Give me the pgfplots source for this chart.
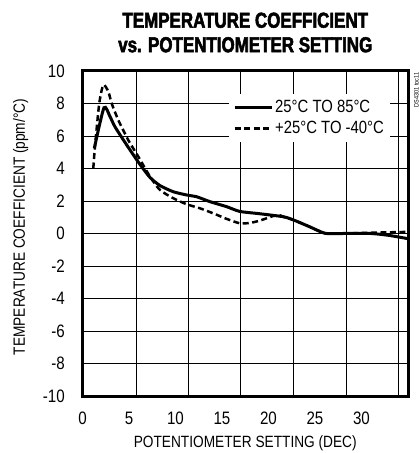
\documentclass[border=0pt]{standalone}
\usepackage{fontspec}
\setmainfont{Liberation Sans}[FakeStretch=0.84]
\newfontfamily\titlefont{Liberation Sans}[UprightFont={* Bold}, FakeStretch=0.785, FakeBold=2.5]
\usepackage{pgfplots}
\pgfplotsset{compat=1.18}

\newcommand\ticksize{\fontsize{18bp}{20bp}\selectfont}

\begin{document}
\begin{tikzpicture}
\useasboundingbox (-82.5bp,-57bp) rectangle (336.5bp,396bp);
\begin{axis}[
    at={(0,0)}, anchor=south west,
    scale only axis, width=325.5bp, height=325bp,
    xmin=0, xmax=35, ymin=-10, ymax=10,
    xtick={0,5,10,15,20,25,30},
    xticklabels={0,5,10,15,20,25,30},
    ytick={-10,-8,...,10},
    hide obscured x ticks=false,
    major tick length=0pt,
    ymajorgrids=true,
    extra x ticks={5.75,11.39,17.03,22.67,28.33,33.96},
    extra x tick labels={},
    extra x tick style={grid=major},
    grid style={black, line width=0.8bp},
    axis line style={line width=3bp},
    /pgf/number format/assume math mode=true,
    tick label style={font=\ticksize},
    yticklabel style={anchor=east, inner sep=0pt, xshift=-17.5bp},
    xticklabel style={anchor=north, inner sep=0pt, yshift=-15.7bp},
    xlabel={POTENTIOMETER SETTING (DEC)},
    xlabel style={at={(axis description cs:0.5,0)}, anchor=base, yshift=-51.3bp,
        font=\fontsize{16.3bp}{18bp}\selectfont},
    ylabel={TEMPERATURE COEFFICIENT (ppm/°C)},
    ylabel style={at={(axis description cs:-0.1767,0.52)}, anchor=base,
        font=\fontsize{16.3bp}{18bp}\selectfont},
    title={TEMPERATURE COEFFICIENT\\vs. POTENTIOMETER SETTING},
    title style={at={(axis description cs:0.5,1.100)}, anchor=center, align=center,
        font=\titlefont\fontsize{21.6bp}{24.5bp}\selectfont},
    clip=false,
    legend cell align=left,
    legend image code/.code={\draw[#1] (0bp,0bp) -- (37bp,0bp);},
    legend style={at={(axis cs:15.75,8.62)}, anchor=north west, draw=none, fill=white,
        inner xsep=4bp, inner ysep=5bp, row sep=3bp,
        font=\fontsize{17.7bp}{19bp}\selectfont},
]
\addplot[black, line width=3bp, smooth, tension=0.4] coordinates {
    (1.27,5.24) (2.31,7.74) (2.96,7.19) (3.49,6.57) (4.75,5.45) (6.18,4.25)
    (7.26,3.45) (8.33,2.95) (9.76,2.57) (11.2,2.37) (12.28,2.26) (13.7,1.96)
    (15.5,1.65) (16.9,1.36) (19.0,1.22) (21.6,1.03) (22.7,0.83) (24.4,0.42)
    (26.1,0.01) (28,0) (31,0) (33,-0.12) (35,-0.32)
};
\addlegendentry{25°C TO 85°C}
\addplot[black, line width=2.5bp, dash pattern=on 6bp off 3.5bp, smooth, tension=0.4] coordinates {
    (1.16,4.0) (1.34,5.34) (1.8,8.0) (2.24,9.14) (2.78,8.73) (3.14,8.0)
    (3.85,6.98) (4.92,5.75) (6.0,4.73) (7.26,3.5) (8.33,2.68) (9.76,2.17)
    (11.2,1.8) (12.63,1.55) (14.06,1.24) (15.5,0.9) (16.9,0.63) (18.0,0.65)
    (19.05,0.79) (20.9,1.14) (21.6,1.03) (22.7,0.83) (24.4,0.42) (26.1,0.01)
    (28,0) (30,0.03) (32,0.06) (35,0.1)
};
\addlegendentry{+25°C TO -40°C}
\node[rotate=90, inner sep=0pt, font=\fontsize{6.5bp}{7bp}\selectfont]
    at (axis description cs:1.026,0.9415) {DS4301 toc11};
\end{axis}
\end{tikzpicture}
\end{document}
